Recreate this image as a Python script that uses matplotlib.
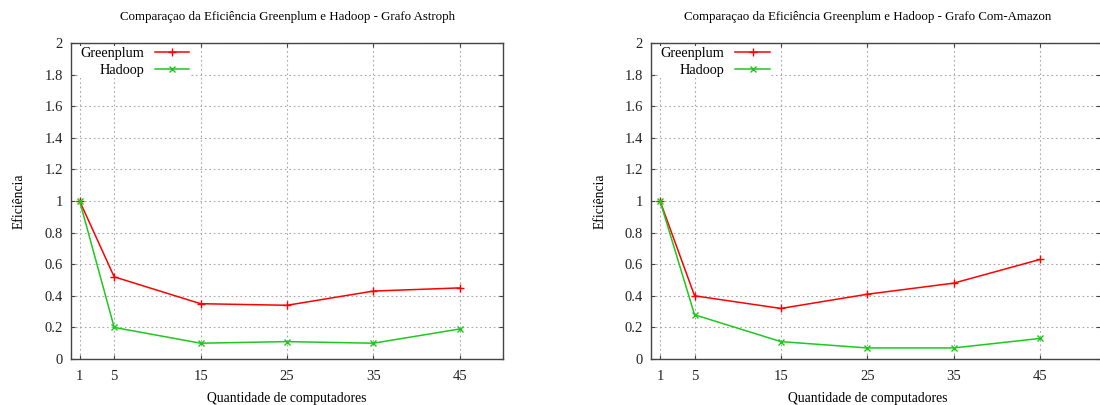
import matplotlib
matplotlib.use("Agg")
import matplotlib.pyplot as plt
from matplotlib.ticker import FormatStrFormatter

plt.rcParams['font.family'] = ['Liberation Serif', 'DejaVu Serif']
plt.rcParams['font.size'] = 10

# data
computadores = [1, 5, 15, 25, 35, 45]
astroph_greenplum = [1.0, 0.52, 0.35, 0.34, 0.43, 0.45]
astroph_hadoop = [1.0, 0.20, 0.10, 0.11, 0.10, 0.19]
amazon_greenplum = [1.0, 0.40, 0.32, 0.41, 0.48, 0.63]
amazon_hadoop = [1.0, 0.28, 0.11, 0.07, 0.07, 0.13]
titulos = ["Comparaçao da Eficiência Greenplum e Hadoop - Grafo Astroph",
           "Comparaçao da Eficiência Greenplum e Hadoop - Grafo Com-Amazon"]
y_ticks = [0, 0.2, 0.4, 0.6, 0.8, 1.0, 1.2, 1.4, 1.6, 1.8, 2.0]

W, H = 1100, 405
fig = plt.figure(figsize=(W / 100, H / 100), dpi=100)

def make_axes(left_px, width_px):
    return fig.add_axes([left_px / W, (H - 359) / H, width_px / W, (359 - 43) / H])

ax1 = make_axes(71, 432)
ax2 = make_axes(651.4, 449)

RED = '#ff0000'
GREEN = '#1ec81e'

def style(ax, title, greenplum, hadoop, xmax, hide_right):
    ax.plot(computadores, greenplum, color=RED, marker='+', ms=6, mew=1, lw=1.1, label='Greenplum')
    ax.plot(computadores, hadoop, color=GREEN, marker='x', ms=5, mew=1, lw=1.1, label='Hadoop')
    ax.set_xlim(0, xmax)
    ax.set_ylim(0, 2)
    ax.set_xticks(computadores)
    ax.set_yticks(y_ticks)
    ax.yaxis.set_major_formatter(FormatStrFormatter('%g'))
    ax.grid(True, color='#a8a8a8', linestyle=(0, (1.5, 2.5)), lw=0.8)
    ax.set_axisbelow(True)
    ax.tick_params(direction='in', length=3, top=True, right=True, color='#444444',
                   labelcolor='#222222', labelsize=10.5)
    ax.tick_params(axis='y', pad=6)
    ax.tick_params(axis='x', pad=8)
    for s in ax.spines.values():
        s.set_color('#444444')
        s.set_linewidth(1)
    if hide_right:
        ax.spines['right'].set_visible(False)
    width_px = ax.get_position().width * W
    cx = 216 / width_px
    ax.text(cx, (359 - 17) / 316, title, transform=ax.transAxes, ha='center', va='center', fontsize=9.3)
    ax.set_xlabel('Quantidade de computadores', fontsize=9.8)
    ax.xaxis.set_label_coords(cx, (359 - 392) / 316)
    ax.set_ylabel('Eficiência', fontsize=9.8)
    ax.yaxis.set_label_coords(-45 / width_px, 0.5)
    leg = ax.legend(loc='upper left', bbox_to_anchor=(8 / width_px, 1 - 3 / 316),
                    markerfirst=False, frameon=True, framealpha=1,
                    edgecolor='none', facecolor='white', fontsize=10.3, handlelength=2.4,
                    borderaxespad=0, borderpad=0.1, labelspacing=0.22, handletextpad=0.75)
    leg.get_frame().set_boxstyle('square', pad=0)

style(ax1, titulos[0], astroph_greenplum, astroph_hadoop, 50, False)
style(ax2, titulos[1], amazon_greenplum, amazon_hadoop, 52, True)

fig.savefig('out.png', dpi=100)
